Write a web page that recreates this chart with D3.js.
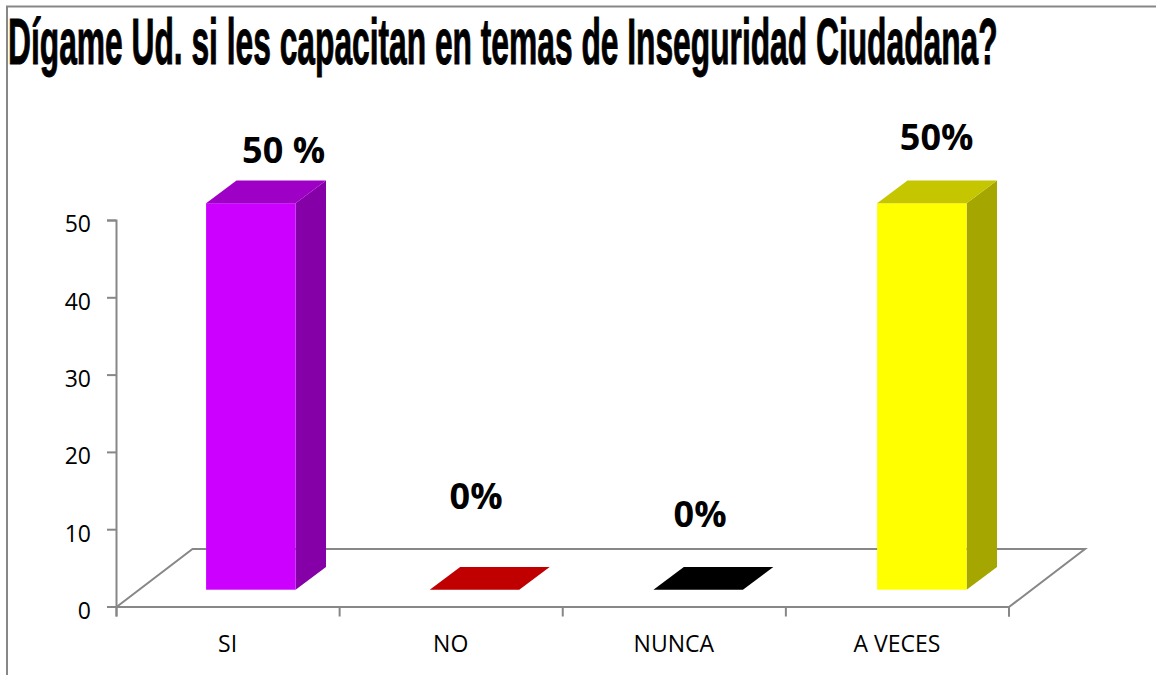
<!DOCTYPE html>
<html>
<head>
<meta charset="utf-8">
<script src="https://cdn.jsdelivr.net/npm/d3@7"></script>
<style>
  body { margin: 0; background: white; }
  svg { display: block; }
</style>
</head>
<body>
<div id="chart"></div>
<script>
let w = 1156;
let h = 675;

// data
let categories = ["SI", "NO", "NUNCA", "A VECES"];
let values = [50, 0, 0, 50];
let valueLabels = ["50 %", "0%", "0%", "50%"];
let yTicks = [0, 10, 20, 30, 40, 50];
let titleText = "Dígame Ud. si les capacitan en temas de Inseguridad Ciudadana?";
let frontColors = ["#cc00ff", "#c00000", "#000000", "#ffff00"];
let topColors = ["#9e00c6", "#c00000", "#000000", "#c6c600"];
let sideColors = ["#8500a6", "#a00000", "#000000", "#a6a600"];

let gray = "#878787";
let plotLeft = 116, plotRight = 1008.5, plotBottom = 606.5, plotTop = 220;
let floorDx = 76.5, floorDy = -57.5;  // depth of the 3d floor
let barDx = 30.4, barDy = -22.7;      // depth of one bar
let barLift = 16.8, barShift = 23;

let viz = d3.select("#chart").append("svg")
  .attr("width", w)
  .attr("height", h)
  .style("background-color", "white");

// scales
let xScale = d3.scaleBand().domain(categories).range([plotLeft, plotRight + 2.2]);
let xEdges = d3.scaleLinear().domain([0, categories.length]).range([plotLeft, plotRight]);
let yScale = d3.scaleLinear().domain([0, 50]).range([plotBottom, plotTop]);

// outer frame, only top and left are visible
viz.append("path")
  .attr("d", "M7,675 V6.5 H1156")
  .attr("fill", "none")
  .attr("stroke", gray)
  .attr("stroke-width", 2);

// title, squeezed like the original
let title = viz.append("text")
  .style("font-family", "'Liberation Sans', Arial, sans-serif")
  .style("font-weight", "bold")
  .style("font-size", "64px")
  .style("stroke", "black")
  .style("stroke-width", "1px")
  .text(titleText);
let titleScale = 990 / title.node().getComputedTextLength();
title.attr("transform", "translate(8,64) scale(" + titleScale + ",1)");

// floor
let floorPts = [
  [xEdges(0) + 0.5, yScale(0) + 0.5],
  [xEdges(0) + floorDx, yScale(0) + floorDy],
  [xEdges(4) + floorDx, yScale(0) + floorDy],
  [xEdges(4) + 0.5, yScale(0) + 0.5]
];
viz.append("path")
  .attr("d", d3.line()(floorPts))
  .attr("fill", "none")
  .attr("stroke", gray)
  .attr("stroke-width", 2);

// axes
let yAxis = d3.axisLeft(yScale).tickValues(yTicks).tickSize(9).tickPadding(16);
let yG = viz.append("g").attr("transform", "translate(" + plotLeft + ",0)").call(yAxis);

let xAxis = d3.axisBottom(xEdges).ticks(categories.length).tickSize(10).tickFormat("");
let xG = viz.append("g").attr("transform", "translate(0," + plotBottom + ")").call(xAxis);

viz.selectAll(".domain, .tick line")
  .attr("stroke", gray)
  .attr("stroke-width", 2);

yG.selectAll("text")
  .attr("fill", "black")
  .attr("dy", "0.52em")
  .style("font-family", "'Open Sans', sans-serif")
  .style("font-size", "23px");

// category labels under the axis
viz.selectAll(".catlabel").data(categories).enter()
  .append("text")
  .attr("class", "catlabel")
  .attr("x", (d, i) => xEdges(i + 0.5))
  .attr("y", 652)
  .attr("text-anchor", "middle")
  .style("font-family", "'Open Sans', sans-serif")
  .style("font-size", "23px")
  .text(d => d);

// bars: three faces each
let barW = 89.5;
function barX(d, i) {
  return xScale(categories[i]) + xScale.bandwidth() / 2 - barW / 2 + barShift;
}
function barBase() {
  return plotBottom - barLift;
}
function barTop(d) {
  return barBase() - (yScale(0) - yScale(d));
}

let bars = viz.selectAll(".bar").data(values).enter()
  .append("g")
  .attr("class", "bar");

bars.append("path")
  .attr("fill", (d, i) => sideColors[i])
  .attr("d", (d, i) => {
    let x = barX(d, i) + barW;
    return d3.line()([[x, barBase()], [x + barDx, barBase() + barDy], [x + barDx, barTop(d) + barDy], [x, barTop(d)]]);
  });

bars.append("rect")
  .attr("fill", (d, i) => frontColors[i])
  .attr("x", barX)
  .attr("y", d => barTop(d))
  .attr("width", barW)
  .attr("height", d => barBase() - barTop(d));

bars.append("path")
  .attr("fill", (d, i) => topColors[i])
  .attr("d", (d, i) => {
    let x = barX(d, i);
    let y = barTop(d);
    return d3.line()([[x, y], [x + barDx, y + barDy], [x + barW + barDx, y + barDy], [x + barW, y]]);
  });

// labels were placed by hand in the original, so nudge each one
let labelNudge = [[32.75, -17.5], [1.6, -58.5], [1.9, -40], [14.75, -31]];
viz.selectAll(".valuelabel").data(valueLabels).enter()
  .append("text")
  .attr("class", "valuelabel")
  .attr("x", (d, i) => barX(values[i], i) + barW / 2 + labelNudge[i][0])
  .attr("y", (d, i) => barTop(values[i]) + barDy + labelNudge[i][1])
  .attr("text-anchor", "middle")
  .style("font-family", "'Open Sans', sans-serif")
  .style("font-weight", "bold")
  .style("font-size", "36px")
  .text(d => d);
</script>
</body>
</html>
